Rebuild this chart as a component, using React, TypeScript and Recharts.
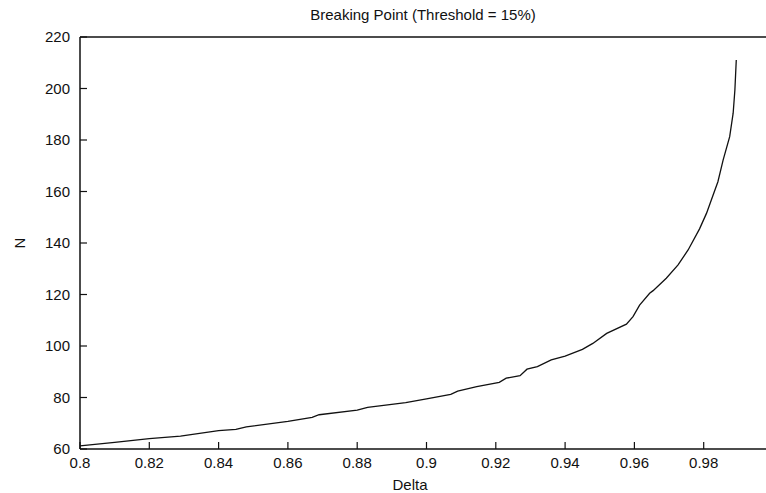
import { LineChart, Line, XAxis, YAxis } from 'recharts'

const deltaValues = [
  0.8, 0.81, 0.82, 0.829, 0.84, 0.845, 0.848, 0.86, 0.867, 0.869, 0.88, 0.883, 0.894, 0.9,
  0.907, 0.909, 0.9145, 0.921, 0.923, 0.927, 0.929, 0.932, 0.936, 0.94, 0.945, 0.948, 0.952,
  0.9577, 0.9596, 0.9615, 0.9644, 0.9654, 0.9692, 0.9726, 0.9755, 0.9788, 0.9808, 0.9822,
  0.9841, 0.9856, 0.9875, 0.9885, 0.989, 0.9894,
]
const nValues = [
  61.2, 62.6, 64.0, 65.0, 67.1, 67.6, 68.6, 70.7, 72.3, 73.3, 75.1, 76.2, 78.0, 79.5,
  81.2, 82.5, 84.2, 85.9, 87.5, 88.5, 91.0, 92.0, 94.6, 96.1, 98.7, 101.0, 104.9,
  108.5, 111.4, 115.9, 120.5, 121.5, 126.3, 131.5, 137.3, 145.5, 151.5, 156.7,
  163.8, 172.2, 181.3, 190.4, 199.4, 211.1,
]
const xTicks = [0.8, 0.82, 0.84, 0.86, 0.88, 0.9, 0.92, 0.94, 0.96, 0.98]
const yTicks = [60, 80, 100, 120, 140, 160, 180, 200, 220]

const data = deltaValues.map((d, i) => ({ delta: d, n: nValues[i] }))

const FONT = '"Liberation Sans", Arial, Helvetica, sans-serif'
const INK = '#111'
const tickStyle = { fontSize: 15, fill: INK, fontFamily: FONT }
const fmtX = (v: number) => String(+v.toFixed(2))

export default function App() {
  return (
    <div style={{ position: 'fixed', left: 0, top: 0, width: 766, height: 493, overflow: 'hidden', background: '#fff' }}>
      <LineChart width={800} height={493} data={data} margin={{ top: 0, right: 0, bottom: 0, left: 0 }}>
        <XAxis
          xAxisId="top"
          orientation="top"
          dataKey="delta"
          type="number"
          domain={[0.8, 1.0]}
          ticks={xTicks}
          height={37}
          tick={false}
          tickSize={-7}
          axisLine={{ stroke: INK, strokeWidth: 1.5 }}
          tickLine={{ stroke: INK, strokeWidth: 1.2 }}
          label={({ viewBox }: any) => (
            <text x={viewBox.x + 343} y={20} textAnchor="middle" fontSize={15} fill={INK} fontFamily={FONT}>
              Breaking Point (Threshold = 15%)
            </text>
          )}
        />
        <XAxis
          xAxisId="bottom"
          dataKey="delta"
          type="number"
          domain={[0.8, 1.0]}
          ticks={xTicks}
          height={44}
          tickFormatter={fmtX}
          tick={tickStyle}
          tickSize={-7}
          tickMargin={15}
          axisLine={{ stroke: INK, strokeWidth: 1.5 }}
          tickLine={{ stroke: INK, strokeWidth: 1.2 }}
          label={({ viewBox }: any) => (
            <text x={viewBox.x + 330} y={viewBox.y + 41} textAnchor="middle" fontSize={15} fill={INK} fontFamily={FONT}>
              Delta
            </text>
          )}
        />
        <YAxis
          yAxisId="left"
          type="number"
          domain={[60, 220]}
          ticks={yTicks}
          width={80}
          tick={tickStyle}
          tickSize={-7}
          tickMargin={17}
          axisLine={{ stroke: INK, strokeWidth: 1.5 }}
          tickLine={{ stroke: INK, strokeWidth: 1.2 }}
          label={({ viewBox }: any) => (
            <text
              x={20}
              y={viewBox.y + viewBox.height / 2}
              textAnchor="middle"
              fontSize={15}
              fill={INK}
              fontFamily={FONT}
              transform={`rotate(-90 20 ${viewBox.y + viewBox.height / 2})`}
              dy={5}
            >
              N
            </text>
          )}
        />
        <YAxis
          yAxisId="right"
          orientation="right"
          type="number"
          domain={[60, 220]}
          ticks={yTicks}
          width={27}
          tick={false}
          tickSize={-7}
          axisLine={{ stroke: INK, strokeWidth: 1.5 }}
          tickLine={{ stroke: INK, strokeWidth: 1.2 }}
        />
        <Line
          xAxisId="bottom"
          yAxisId="left"
          dataKey="n"
          type="linear"
          stroke={INK}
          strokeWidth={1.3}
          dot={false}
          isAnimationActive={false}
        />
      </LineChart>
    </div>
  )
}
